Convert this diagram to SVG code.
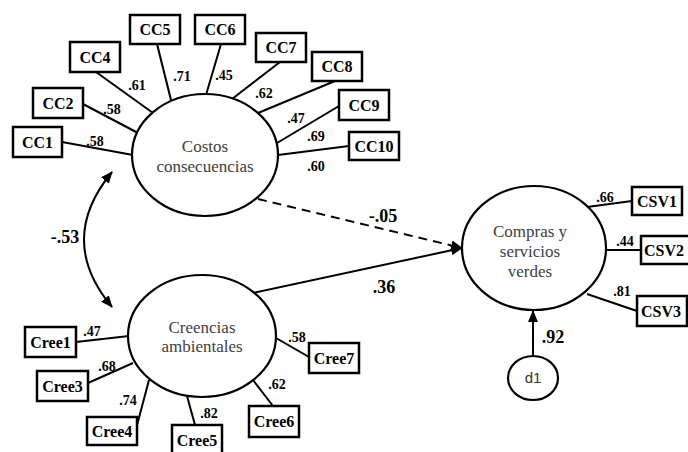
<svg xmlns="http://www.w3.org/2000/svg" width="688" height="452" viewBox="0 0 688 452">
<style>
.bg{fill:#fff}
.box{fill:#fff;stroke:#000;stroke-width:2.5}
.lat{fill:#fff;stroke:#000;stroke-width:2.2}
.ln{fill:none;stroke:#000;stroke-width:2}
.bt{font-family:'Liberation Serif','Times New Roman',Times,'DejaVu Serif',serif;font-weight:bold;font-size:16px;fill:#000;text-anchor:middle}
.lt{font-family:'Liberation Serif','Times New Roman',Times,'DejaVu Serif',serif;font-size:17px;fill:#404040;text-anchor:middle}
.ld{font-family:'Liberation Serif','Times New Roman',Times,'DejaVu Serif',serif;font-weight:bold;font-size:14px;fill:#000;text-anchor:middle}
.lb{font-family:'Liberation Serif','Times New Roman',Times,'DejaVu Serif',serif;font-weight:bold;font-size:18px;fill:#000;text-anchor:middle}
.dt{font-family:'Liberation Sans',Arial,sans-serif;font-size:15px;fill:#333;text-anchor:middle}
</style>
<defs>
<marker id="ah" markerWidth="12" markerHeight="10" refX="11" refY="5" orient="auto-start-reverse" markerUnits="userSpaceOnUse">
<path d="M0,0 L12,5 L0,10 Z" fill="#000"/>
</marker>
</defs>
<rect class="bg" width="688" height="452"/>
<g id="connectors">
<line class="ln" x1="62" y1="142" x2="133" y2="155"/>
<line class="ln" x1="83" y1="104" x2="138" y2="133"/>
<line class="ln" x1="96" y1="72" x2="153" y2="113"/>
<line class="ln" x1="157" y1="44" x2="171" y2="100"/>
<line class="ln" x1="221" y1="44" x2="206" y2="95"/>
<line class="ln" x1="280" y1="62" x2="232" y2="99"/>
<line class="ln" x1="335" y1="81" x2="258" y2="113"/>
<line class="ln" x1="339" y1="106" x2="277" y2="143"/>
<line class="ln" x1="349" y1="146" x2="278" y2="155"/>
<line class="ln" x1="76" y1="342" x2="129" y2="336"/>
<line class="ln" x1="88" y1="383" x2="133" y2="363"/>
<line class="ln" x1="136" y1="429" x2="149" y2="380"/>
<line class="ln" x1="195" y1="425" x2="187" y2="396"/>
<line class="ln" x1="273" y1="406" x2="253" y2="380"/>
<line class="ln" x1="309" y1="357" x2="276" y2="338"/>
<line class="ln" x1="587" y1="207" x2="632" y2="201"/>
<line class="ln" x1="607" y1="250" x2="641" y2="250"/>
<line class="ln" x1="587" y1="294" x2="637" y2="311"/>
<path class="ln" d="M112,172 Q56,240 112,307" marker-start="url(#ah)" marker-end="url(#ah)"/>
<line class="ln" x1="258" y1="199" x2="462" y2="248" stroke-dasharray="9,6" marker-end="url(#ah)"/>
<line class="ln" x1="253" y1="293" x2="462" y2="248" marker-end="url(#ah)"/>
<line class="ln" x1="533" y1="356" x2="533" y2="311" marker-end="url(#ah)"/>
</g>
<g id="costos">
<ellipse class="lat" cx="205" cy="155" rx="73" ry="61"/>
<text class="lt" x="205" y="152">Costos</text>
<text class="lt" x="205" y="172">consecuencias</text>
</g>
<g id="creencias">
<ellipse class="lat" cx="202" cy="336" rx="74" ry="61"/>
<text class="lt" x="202" y="333">Creencias</text>
<text class="lt" x="202" y="352">ambientales</text>
</g>
<g id="compras">
<ellipse class="lat" cx="534" cy="248" rx="72" ry="62"/>
<text class="lt" x="530" y="237">Compras y</text>
<text class="lt" x="530" y="257">servicios</text>
<text class="lt" x="530" y="277">verdes</text>
</g>
<g id="d1">
<ellipse class="lat" cx="533" cy="378" rx="25" ry="22"/>
<text class="dt" x="533" y="383">d1</text>
</g>
<g id="CC1"><rect class="box" x="13" y="127" width="49" height="30"/><text class="bt" x="37.5" y="148">CC1</text></g>
<g id="CC2"><rect class="box" x="33" y="88" width="50" height="30"/><text class="bt" x="58" y="109">CC2</text></g>
<g id="CC4"><rect class="box" x="70" y="42" width="50" height="30"/><text class="bt" x="95" y="63">CC4</text></g>
<g id="CC5"><rect class="box" x="130" y="15" width="50" height="29"/><text class="bt" x="155" y="35">CC5</text></g>
<g id="CC6"><rect class="box" x="195" y="15" width="50" height="29"/><text class="bt" x="220" y="35">CC6</text></g>
<g id="CC7"><rect class="box" x="256" y="33" width="50" height="29"/><text class="bt" x="281" y="53">CC7</text></g>
<g id="CC8"><rect class="box" x="312" y="52" width="50" height="29"/><text class="bt" x="337" y="72">CC8</text></g>
<g id="CC9"><rect class="box" x="339" y="90" width="50" height="30"/><text class="bt" x="364" y="111">CC9</text></g>
<g id="CC10"><rect class="box" x="349" y="132" width="50" height="28"/><text class="bt" x="374" y="152">CC10</text></g>
<g id="Cree1"><rect class="box" x="25" y="327" width="51" height="30"/><text class="bt" x="50.5" y="348">Cree1</text></g>
<g id="Cree3"><rect class="box" x="37" y="371" width="51" height="30"/><text class="bt" x="62.5" y="392">Cree3</text></g>
<g id="Cree4"><rect class="box" x="87" y="417" width="50" height="28"/><text class="bt" x="112" y="437">Cree4</text></g>
<g id="Cree5"><rect class="box" x="172" y="425" width="50" height="30"/><text class="bt" x="197" y="446">Cree5</text></g>
<g id="Cree6"><rect class="box" x="249" y="406" width="50" height="31"/><text class="bt" x="274" y="427">Cree6</text></g>
<g id="Cree7"><rect class="box" x="309" y="343" width="50" height="30"/><text class="bt" x="334" y="364">Cree7</text></g>
<g id="CSV1"><rect class="box" x="632" y="187" width="50" height="28"/><text class="bt" x="657" y="207">CSV1</text></g>
<g id="CSV2"><rect class="box" x="641" y="236" width="50" height="28"/><text class="bt" x="664" y="256">CSV2</text></g>
<g id="CSV3"><rect class="box" x="637" y="296" width="50" height="30"/><text class="bt" x="661" y="317">CSV3</text></g>
<g id="labels">
<text class="ld" x="95" y="146">.58</text>
<text class="ld" x="112" y="114">.58</text>
<text class="ld" x="137" y="90">.61</text>
<text class="ld" x="182" y="81">.71</text>
<text class="ld" x="224" y="80">.45</text>
<text class="ld" x="264" y="98">.62</text>
<text class="ld" x="296" y="123">.47</text>
<text class="ld" x="316" y="141">.69</text>
<text class="ld" x="316" y="171">.60</text>
<text class="ld" x="92" y="336">.47</text>
<text class="ld" x="107" y="371">.68</text>
<text class="ld" x="128" y="405">.74</text>
<text class="ld" x="209" y="418">.82</text>
<text class="ld" x="277" y="389">.62</text>
<text class="ld" x="297" y="342">.58</text>
<text class="ld" x="605" y="202">.66</text>
<text class="ld" x="625" y="246">.44</text>
<text class="ld" x="622" y="296">.81</text>
<text class="lb" x="383" y="222">-.05</text>
<text class="lb" x="384" y="293">.36</text>
<text class="lb" x="65" y="243">-.53</text>
<text class="lb" x="553" y="343">.92</text>
</g>
</svg>
